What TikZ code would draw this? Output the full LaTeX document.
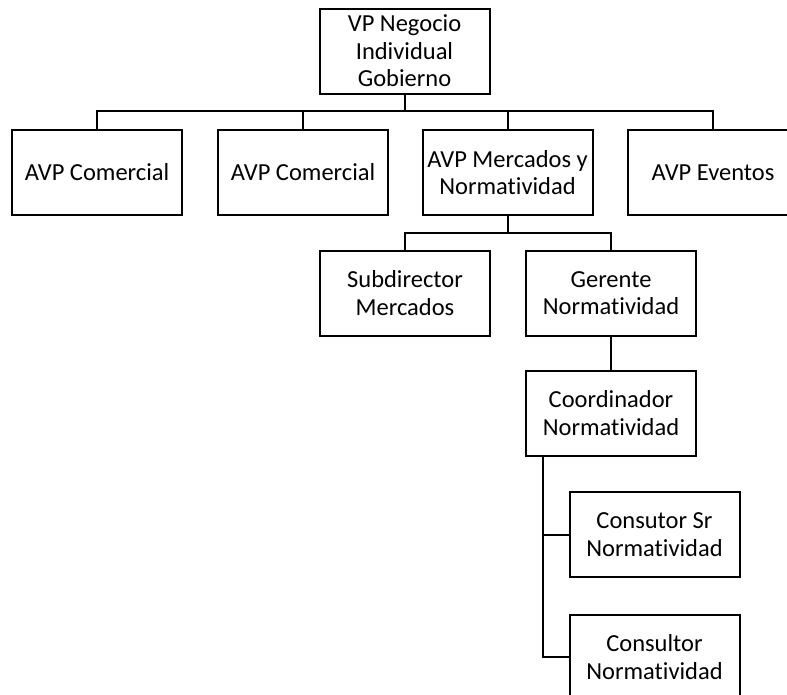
\documentclass[tikz,border=0pt]{standalone}
\usepackage{fontspec}
\setmainfont{Carlito}[RawFeature={-liga}]
\begin{document}
\begin{tikzpicture}[x=1pt,y=-1pt,
  box/.style={draw, line width=2pt, minimum width=170pt, minimum height=85pt,
    align=center, inner sep=0pt, font=\fontsize{24.5}{27.5}\selectfont},
  conn/.style={line width=2pt}]
\clip (0,0) rectangle (787,694);
\node[box] (vp) at (404.5,51) {VP Negocio\\Individual\\Gobierno};
\node[box] (a1) at (97,172.5) {AVP Comercial};
\node[box] (a2) at (303,172.5) {AVP Comercial};
\node[box] (a3) at (507.5,172.5) {AVP Mercados y\\Normatividad};
\node[box] (a4) at (713,172.5) {AVP Eventos};
\node[box] (sub) at (405,293) {Subdirector\\Mercados};
\node[box] (ger) at (611,293) {Gerente\\Normatividad};
\node[box] (coo) at (611,413) {Coordinador\\Normatividad};
\node[box] (cs1) at (654.5,534.5) {Consutor Sr\\Normatividad};
\node[box] (cs2) at (654.5,657) {Consultor\\Normatividad};
\coordinate (bus1) at (0,111);
\coordinate (bus2) at (0,232.7);
\coordinate (vx) at (542.7,0);
\draw[conn] (vp.south) -- (vp.south |- bus1);
\draw[conn] (a1.north) -- (a1.north |- bus1) -- (a4.north |- bus1) -- (a4.north);
\draw[conn] (a2.north) -- (a2.north |- bus1);
\draw[conn] (a3.north) -- (a3.north |- bus1);
\draw[conn] (a3.south) -- (a3.south |- bus2);
\draw[conn] (sub.north) -- (sub.north |- bus2) -- (ger.north |- bus2) -- (ger.north);
\draw[conn] (ger.south) -- (coo.north);
\draw[conn] (coo.south -| vx) -- (cs2.west -| vx) -- (cs2.west);
\draw[conn] (cs1.west -| vx) -- (cs1.west);
\end{tikzpicture}
\end{document}
